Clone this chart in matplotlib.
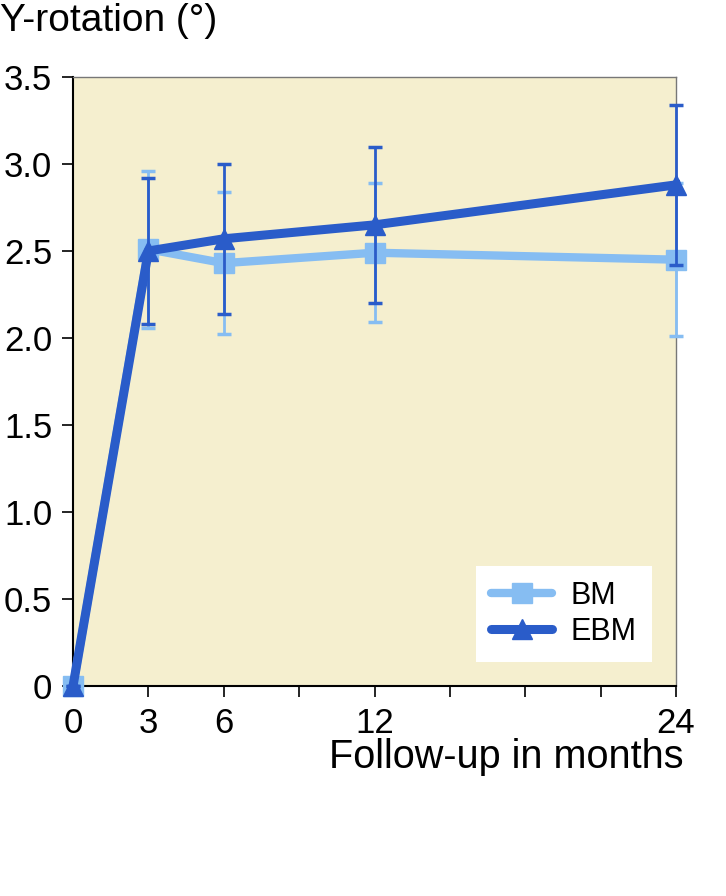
import matplotlib.pyplot as plt
from matplotlib.lines import Line2D

plt.rcParams['font.family'] = ['Liberation Sans', 'DejaVu Sans']

months = [0, 3, 6, 12, 24]
bm = [0, 2.51, 2.43, 2.49, 2.45]
bm_err = [0, 0.45, 0.41, 0.40, 0.44]
ebm = [0, 2.50, 2.57, 2.65, 2.88]
ebm_err = [0, 0.42, 0.43, 0.45, 0.46]
xtick_labels = ["0", "3", "6", "", "12", "", "", "", "24"]
ytick_labels = ["0", "0.5", "1.0", "1.5", "2.0", "2.5", "3.0", "3.5"]

bm_color = "#86BDF2"
ebm_color = "#2A5CC9"

fig = plt.figure(figsize=(7.26, 8.96), dpi=100)
ax = fig.add_axes([0.1006, 0.2344, 0.8306, 0.6797])
ax.set_facecolor("#F5EFCF")

ax.errorbar(months, bm, yerr=bm_err, color=bm_color, lw=6, marker="s", ms=15,
            elinewidth=2, capsize=5, capthick=2.5, zorder=3, clip_on=False)
ax.errorbar(months, ebm, yerr=ebm_err, color=ebm_color, lw=6.5, marker="^", ms=15,
            elinewidth=2, capsize=5, capthick=2.5, zorder=4, clip_on=False)

ax.set_xlim(0, 24)
ax.set_ylim(0, 3.5)
ax.set_xticks(range(0, 25, 3))
ax.set_xticklabels(xtick_labels)
ax.set_yticks([i * 0.5 for i in range(8)])
ax.set_yticklabels(ytick_labels)
ax.tick_params(axis="both", labelsize=25, length=8, width=1.2, pad=7)
ax.tick_params(axis="y", pad=7)

for s in ["left", "bottom"]:
    ax.spines[s].set_linewidth(1.5)
    ax.spines[s].set_color("black")
for s in ["top", "right"]:
    ax.spines[s].set_linewidth(1)
    ax.spines[s].set_color("#777777")

fig.text(0.0, 0.977, "Y-rotation (°)", fontsize=28, ha="left", va="center")
fig.text(0.942, 0.155, "Follow-up in months", fontsize=28.5, ha="right", va="center")

handles = [
    Line2D([], [], color=bm_color, lw=6, marker="s", ms=15, solid_capstyle="round"),
    Line2D([], [], color=ebm_color, lw=6.5, marker="^", ms=15, solid_capstyle="round"),
]
leg = ax.legend(handles, ["BM", "EBM"], loc="lower right",
                bbox_to_anchor=(0.96, 0.039), fontsize=22,
                frameon=True, fancybox=False, framealpha=1, edgecolor="white",
                handlelength=2.0, borderpad=0.5, labelspacing=0.2,
                handletextpad=0.6, borderaxespad=0)
leg.get_frame().set_linewidth(0)

fig.savefig("out.png", dpi=100)
